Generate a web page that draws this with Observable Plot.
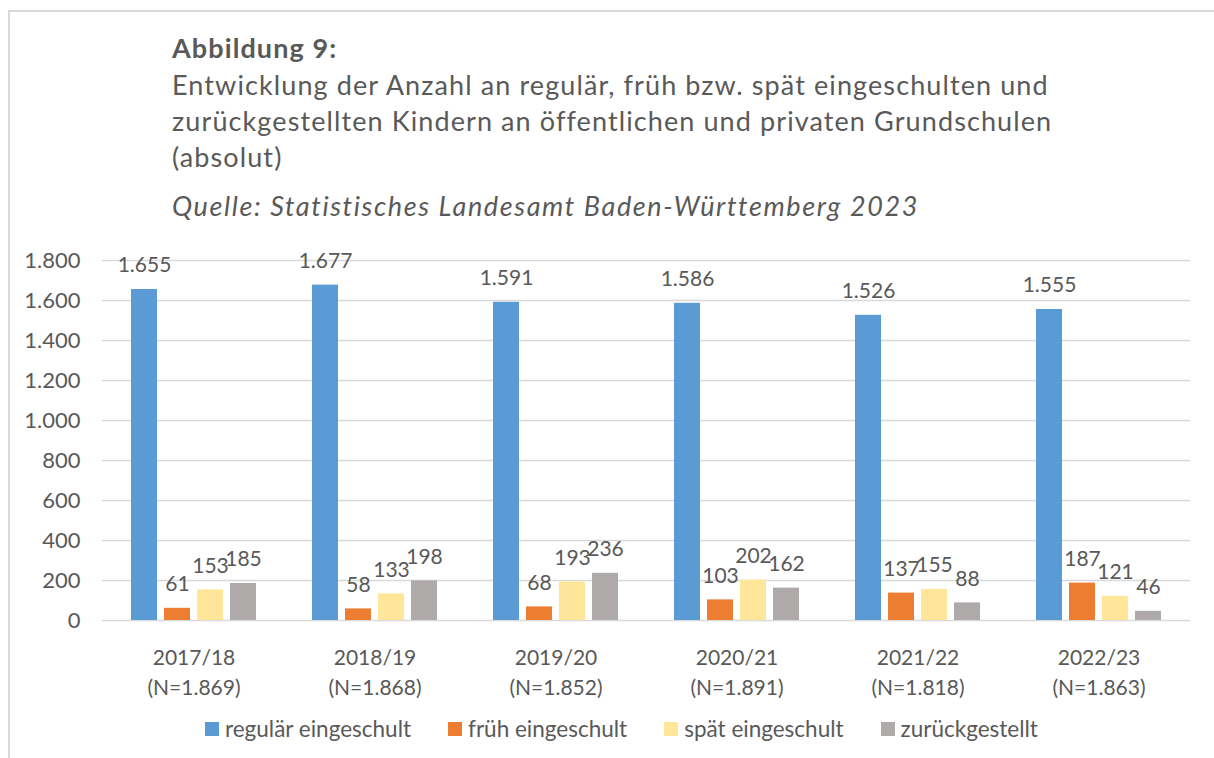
<!DOCTYPE html>
<html>
<head>
<meta charset="utf-8">
<script src="https://cdn.jsdelivr.net/npm/d3@7"></script>
<script src="https://cdn.jsdelivr.net/npm/@observablehq/plot@0.6"></script>
<style>
  html, body { margin: 0; padding: 0; background: #fff; }
  body { width: 1214px; height: 758px; position: relative; overflow: hidden; font-family: Lato, "Open Sans", sans-serif; color: #595959; }
  #frame { position: absolute; left: 8px; top: 10px; right: -5px; bottom: -5px; border-top: 2px solid #D9D9D9; border-left: 2px solid #D9D9D9; }
  .t { position: absolute; left: 172px; white-space: nowrap; font-size: 27px; line-height: 36px; letter-spacing: 1.1px; }
  #chart { position: absolute; left: 0; top: 240px; }
  #legend { position: absolute; top: 716px; left: 205px; display: flex; gap: 37px; font-size: 22.5px; line-height: 26px; }
  .li { display: flex; align-items: center; }
  .sw { width: 14px; height: 14px; margin-right: 6px; }
</style>
</head>
<body>
<div id="frame"></div>
<div class="t" style="top:30px;font-weight:bold;">Abbildung 9:</div>
<div class="t" style="top:67px;">Entwicklung der Anzahl an regulär, früh bzw. spät eingeschulten und<br>zurückgestellten Kindern an öffentlichen und privaten Grundschulen<br>(absolut)</div>
<div class="t" style="top:188px;font-style:italic;letter-spacing:1.6px;">Quelle: Statistisches Landesamt Baden-Württemberg 2023</div>
<div id="chart"></div>
<div id="legend"></div>
<script>
const years = ["2017/18", "2018/19", "2019/20", "2020/21", "2021/22", "2022/23"];
const totals = ["1.869", "1.868", "1.852", "1.891", "1.818", "1.863"];
const series = ["regulär eingeschult", "früh eingeschult", "spät eingeschult", "zurückgestellt"];
const colors = ["#5B9BD5", "#ED7D31", "#FFE699", "#AEAAAA"];
const regular = [1655, 1677, 1591, 1586, 1526, 1555];
const early = [61, 58, 68, 103, 137, 187];
const late = [153, 133, 193, 202, 155, 121];
const deferred = [185, 198, 236, 162, 88, 46];
const yTicks = [0, 200, 400, 600, 800, 1000, 1200, 1400, 1600, 1800];

const values = [regular, early, late, deferred];
const data = [];
series.forEach((s, i) => years.forEach((y, j) => data.push({year: y, series: s, si: i, value: values[i][j]})));

const de = d3.formatLocale({decimal: ",", thousands: ".", grouping: [3], currency: ["", " €"]});
const fmt = de.format(",");

const bandW = 125, barW = 26, barStep = 33;
const marks = [
  Plot.ruleY(yTicks, {stroke: "#D9D9D9", strokeWidth: 1.5})
];
series.forEach((s, i) => {
  const d = data.filter(r => r.si === i);
  marks.push(Plot.barY(d, {x: "year", y: "value", fill: colors[i],
    insetLeft: i * barStep, insetRight: bandW - i * barStep - barW}));
  marks.push(Plot.text(d, {x: "year", y: "value", text: r => fmt(r.value),
    dx: -bandW / 2 + i * barStep + barW / 2, dy: -24, fontSize: 21, fill: "#595959"}));
});
marks.push(Plot.axisY({ticks: yTicks, tickFormat: fmt, tickSize: 0, tickPadding: 22, fontSize: 22, label: null}));
marks.push(Plot.axisX({tickSize: 0, tickPadding: 24, fontSize: 21, lineHeight: 1.4, label: null,
  tickFormat: y => y + "\n(N=" + totals[years.indexOf(y)] + ")"}));

const chart = Plot.plot({
  width: 1214,
  height: 470,
  marginLeft: 102,
  marginRight: 24,
  marginTop: 20,
  marginBottom: 90,
  style: {fontFamily: "Lato, 'Open Sans', sans-serif", color: "#595959", background: "transparent", overflow: "visible"},
  x: {domain: years, paddingInner: 0.31, paddingOuter: 0.155, axis: null},
  y: {domain: [0, 1800], axis: null},
  marks
});
document.getElementById("chart").appendChild(chart);

const legend = document.getElementById("legend");
series.forEach((s, i) => {
  const item = document.createElement("div");
  item.className = "li";
  item.innerHTML = `<span class="sw" style="background:${colors[i]}"></span><span>${s}</span>`;
  legend.appendChild(item);
});
</script>
</body>
</html>
